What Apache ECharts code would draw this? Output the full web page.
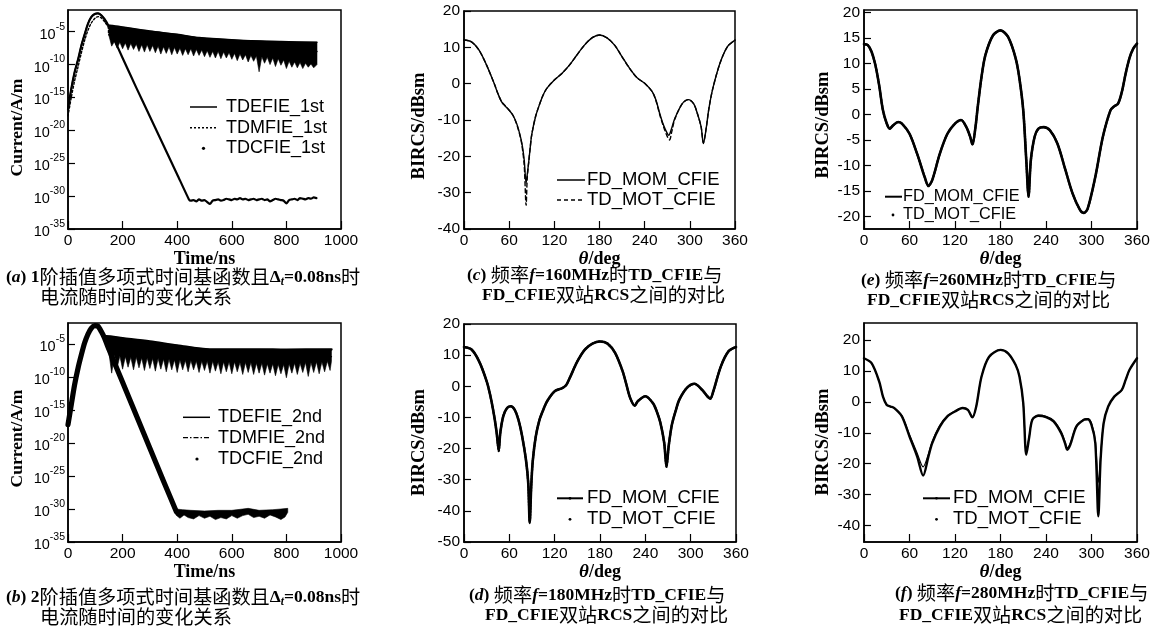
<!DOCTYPE html>
<html><head><meta charset="utf-8">
<script src="https://cdn.jsdelivr.net/npm/echarts@6/dist/echarts.min.js"></script>
<style>html,body{margin:0;padding:0;background:#fff}#chart{width:1156px;height:628px}</style>
</head><body><div id="chart"></div>
<script>
// ---------- Panel (a): time (ns) vs log10(current A/m), 1st order ----------
const riseA = [[0,-16.8],[12,-13.7],[24,-11.2],[37,-9.2],[49,-7.1],[61,-5.4],[73,-3.8],[85,-2.8],[98,-2.3],[110,-2.2],[122,-2.5],[134,-3.1],[147,-4.0]];
const riseMfieA = [[0,-17.8],[12,-15.0],[24,-12.5],[37,-10.3],[49,-8.2],[61,-6.3],[73,-4.8],[85,-3.7],[98,-3.0],[110,-2.7],[122,-2.9],[134,-3.5],[147,-4.3]];
const bandTopA = [[150,-4.0],[200,-4.3],[300,-4.9],[400,-5.4],[480,-5.9],[630,-6.3],[780,-6.5],[912,-6.6]];
const bandBotA = [[150,-5.6],[160,-7.2],[170,-6.5],[180,-7.5],[190,-6.6],[200,-7.6],[210,-6.7],[220,-7.8],[230,-6.8],[240,-7.7],[250,-6.9],[260,-8.0],[270,-7.0],[280,-8.1],[290,-7.0],[300,-8.0],[310,-7.1],[320,-8.2],[330,-7.2],[340,-8.4],[350,-7.3],[360,-8.3],[370,-7.3],[380,-8.5],[390,-7.4],[400,-8.4],[410,-7.5],[420,-8.6],[430,-7.6],[440,-8.5],[450,-7.6],[460,-8.7],[470,-7.7],[480,-8.6],[490,-7.8],[500,-8.8],[510,-7.9],[520,-8.9],[530,-8.0],[540,-9.0],[550,-8.0],[560,-9.1],[570,-8.1],[580,-9.0],[590,-8.2],[600,-9.2],[610,-8.3],[620,-9.4],[630,-8.4],[640,-9.3],[650,-8.5],[660,-9.6],[670,-8.6],[680,-9.5],[690,-8.7],[700,-11.1],[710,-8.8],[720,-9.8],[730,-8.9],[740,-10.0],[750,-9.0],[760,-10.3],[770,-9.1],[780,-10.1],[790,-9.3],[800,-10.6],[810,-9.5],[820,-10.4],[830,-9.6],[840,-10.5],[850,-9.7],[860,-10.6],[870,-9.8],[880,-10.4],[890,-9.9],[900,-10.5],[912,-10.0]];
const mfieTailA = [[150,-5.5],[300,-6.5],[500,-7.2],[700,-7.6],[800,-7.9],[912,-8.0]];
const decayA = [[160,-5.3],[200,-9.0],[250,-13.5],[300,-17.9],[350,-22.3],[400,-26.7],[443,-30.5]];
const floorA = [[450,-30.7],[460,-30.6],[470,-30.8],[480,-30.5],[490,-30.7],[500,-30.6],[510,-30.9],[520,-31.2],[530,-30.7],[540,-30.6],[550,-30.5],[560,-30.7],[570,-30.6],[580,-30.4],[590,-30.5],[600,-30.6],[610,-30.4],[620,-30.5],[630,-30.3],[640,-30.5],[650,-30.4],[660,-30.6],[670,-30.5],[680,-30.4],[690,-30.6],[700,-30.5],[710,-30.4],[720,-30.6],[730,-30.5],[740,-30.8],[750,-30.6],[760,-30.4],[770,-30.5],[780,-30.6],[790,-30.7],[800,-31.1],[810,-30.6],[820,-30.5],[830,-30.4],[840,-30.6],[850,-30.3],[860,-30.4],[870,-30.5],[880,-30.3],[890,-30.4],[900,-30.2],[910,-30.3]];

// ---------- Panel (b): 2nd order ----------
const riseB = [[0,-17.2],[12,-14.2],[24,-11.2],[37,-8.6],[49,-6.6],[61,-4.8],[73,-3.5],[85,-2.6],[98,-2.2],[110,-2.3],[122,-3.1],[134,-4.1]];
const bandTopB = [[140,-3.8],[200,-4.1],[300,-4.6],[400,-5.2],[520,-5.8],[700,-5.8],[800,-5.85],[965,-5.8]];
const bandBotB = [[140,-5.2],[150,-6.4],[160,-9.4],[170,-6.6],[180,-8.6],[190,-6.8],[200,-8.8],[210,-6.9],[220,-8.5],[230,-7.0],[240,-8.9],[250,-7.0],[260,-8.6],[270,-7.1],[280,-9.0],[290,-7.1],[300,-8.7],[310,-7.2],[320,-9.1],[330,-7.2],[340,-8.8],[350,-7.3],[360,-9.2],[370,-7.3],[380,-8.9],[390,-7.4],[400,-9.3],[410,-7.4],[420,-8.9],[430,-7.5],[440,-9.2],[450,-7.5],[460,-8.9],[470,-7.6],[480,-9.3],[490,-7.6],[500,-9.0],[510,-7.6],[520,-9.4],[530,-7.6],[540,-9.1],[550,-7.7],[560,-9.5],[570,-7.7],[580,-9.2],[590,-7.7],[600,-9.5],[610,-7.7],[620,-9.2],[630,-7.8],[640,-9.6],[650,-7.8],[660,-9.3],[670,-7.8],[680,-9.6],[690,-7.9],[700,-9.4],[710,-7.9],[720,-9.7],[730,-8.0],[740,-9.4],[750,-8.0],[760,-9.8],[770,-8.1],[780,-9.5],[790,-8.1],[800,-10.1],[810,-8.0],[820,-9.4],[830,-7.9],[840,-9.6],[850,-7.9],[860,-9.3],[870,-7.8],[880,-9.9],[890,-7.8],[900,-9.3],[910,-7.7],[920,-9.5],[930,-7.7],[940,-9.2],[950,-7.6],[960,-9.0],[965,-7.6]];
const mfieTailB = [[140,-4.6],[300,-6.0],[500,-6.6],[700,-6.8],[965,-6.9]];
const decayB = [[145,-5.3],[200,-10.8],[250,-15.8],[300,-20.8],[350,-25.8],[397,-30.4]];
const floorTopB = [[395,-30.0],[420,-30.1],[450,-30.2],[500,-30.3],[550,-30.2],[600,-30.2],[640,-30.0],[660,-29.9],[700,-30.2],[750,-30.1],[780,-30.0],[805,-29.9]];
const floorBotB = [[395,-30.9],[410,-31.4],[425,-30.9],[440,-31.3],[460,-31.5],[480,-31.0],[500,-31.4],[520,-31.1],[540,-31.6],[560,-31.3],[580,-31.5],[600,-31.0],[620,-31.4],[640,-31.0],[660,-30.8],[680,-31.3],[700,-31.1],[720,-31.4],[740,-30.9],[760,-31.2],[780,-31.6],[795,-31.2],[805,-30.5]];

// ---------- Panel (c): 160 MHz, theta (deg) vs BIRCS (dBsm) ----------
const fdC = [[0,12.0],[10,11.5],[20,9.2],[30,5.1],[40,0.1],[45,-2.7],[50,-5.0],[55,-6.2],[60,-7.3],[65,-8.7],[70,-11.0],[74,-13.8],[77,-16.5],[80,-21.0],[82.5,-27.4],[84,-25.0],[86,-21.5],[88,-17.5],[90,-14.0],[95,-9.1],[100,-5.9],[105,-3.2],[110,-1.3],[120,1.0],[130,2.8],[140,5.1],[150,7.9],[160,10.6],[170,12.6],[180,13.4],[190,12.6],[200,10.6],[210,7.4],[220,4.2],[230,1.6],[240,0.1],[250,-2.2],[255,-4.5],[260,-8.2],[265,-11.4],[270,-13.7],[272,-14.2],[275,-12.8],[280,-9.6],[290,-5.5],[298,-4.4],[305,-5.5],[310,-8.2],[315,-11.9],[318,-16.5],[322,-11.9],[325,-7.3],[330,-1.8],[340,5.6],[350,10.2],[360,12.0]];
const tdC = [[0,12.0],[10,11.5],[20,9.2],[30,5.1],[40,0.1],[45,-2.7],[50,-5.0],[55,-6.2],[60,-7.3],[65,-8.7],[70,-11.2],[74,-14.0],[77,-17.0],[80,-22.5],[82.5,-33.5],[84,-26.0],[86,-21.5],[88,-17.5],[90,-14.0],[95,-9.1],[100,-5.9],[105,-3.2],[110,-1.3],[120,1.0],[130,2.8],[140,5.1],[150,7.9],[160,10.6],[170,12.6],[180,13.4],[190,12.6],[200,10.6],[210,7.4],[220,4.2],[230,1.6],[240,0.1],[250,-2.2],[255,-4.7],[260,-8.5],[265,-11.8],[270,-14.5],[273,-15.5],[276,-13.2],[280,-9.8],[290,-5.5],[298,-4.4],[305,-5.5],[310,-8.2],[315,-11.9],[318,-16.3],[322,-11.9],[325,-7.3],[330,-1.8],[340,5.6],[350,10.2],[360,12.0]];

// ---------- Panel (d): 180 MHz ----------
const fdD = [[0,12.6],[10,11.8],[20,8.0],[30,1.6],[35,-3.2],[40,-9.6],[43,-14.5],[46,-20.4],[48,-15.0],[52,-9.6],[57,-7.0],[62,-6.4],[67,-7.5],[72,-10.7],[77,-16.1],[82,-23.6],[85,-31.0],[87,-43.9],[89,-32.0],[91,-24.0],[95,-16.1],[100,-10.7],[105,-7.5],[110,-4.8],[120,-1.6],[130,-0.6],[135,0.3],[140,2.7],[150,8.0],[160,11.8],[170,13.7],[180,14.4],[190,13.7],[200,10.7],[210,4.8],[215,0.5],[220,-3.8],[226,-6.2],[230,-4.8],[240,-3.2],[250,-5.4],[255,-8.0],[260,-11.8],[265,-18.2],[268,-25.7],[271,-19.0],[275,-12.5],[280,-8.0],[285,-4.3],[295,-0.5],[305,0.8],[315,-1.1],[322,-3.2],[326,-4.0],[330,-1.6],[340,6.4],[350,11.2],[360,12.6]];
const tdD = [[0,12.6],[10,11.8],[20,8.0],[30,1.6],[35,-3.2],[40,-9.6],[43,-14.5],[46,-20.8],[48,-15.0],[52,-9.6],[57,-7.0],[62,-6.4],[67,-7.5],[72,-10.7],[77,-16.1],[82,-23.6],[85,-31.0],[87,-43.5],[89,-32.0],[91,-24.0],[95,-16.1],[100,-10.7],[105,-7.5],[110,-4.8],[120,-1.6],[130,-0.6],[135,0.3],[140,2.7],[150,8.0],[160,11.8],[170,13.7],[180,14.4],[190,13.7],[200,10.7],[210,4.8],[215,0.5],[220,-3.8],[226,-6.2],[230,-4.8],[240,-3.2],[250,-5.4],[255,-8.0],[260,-11.8],[265,-18.2],[268,-25.9],[271,-19.0],[275,-12.5],[280,-8.0],[285,-4.3],[295,-0.5],[305,0.8],[315,-1.1],[322,-3.2],[326,-4.0],[330,-1.6],[340,6.4],[350,11.2],[360,12.6]];

// ---------- Panel (e): 260 MHz ----------
const fdE = [[0,13.8],[5,13.6],[10,12.3],[15,9.7],[20,5.7],[25,0.8],[30,-1.8],[34,-2.8],[38,-2.2],[45,-1.5],[50,-1.8],[60,-3.8],[70,-7.7],[80,-12.3],[85,-14.0],[90,-12.9],[100,-7.7],[110,-3.8],[120,-1.8],[128,-1.1],[135,-2.5],[140,-4.4],[143,-5.9],[147,-2.5],[150,1.5],[155,7.4],[160,11.6],[170,15.5],[180,16.5],[190,15.2],[200,11.0],[205,7.0],[210,0.8],[214,-9.0],[217,-16.0],[220,-9.0],[225,-4.4],[230,-2.8],[237,-2.5],[245,-3.1],[255,-5.7],[265,-10.6],[275,-15.5],[285,-18.8],[290,-19.3],[295,-18.5],[305,-12.3],[315,-4.4],[325,0.8],[330,1.6],[335,2.1],[340,4.4],[345,8.0],[350,11.0],[355,12.9],[360,13.9]];
const tdE = [[0,13.8],[5,13.6],[10,12.3],[15,9.7],[20,5.7],[25,0.8],[30,-1.8],[34,-2.8],[38,-2.2],[45,-1.5],[50,-1.8],[60,-3.8],[70,-7.7],[80,-12.3],[85,-14.1],[90,-12.9],[100,-7.7],[110,-3.8],[120,-1.8],[128,-1.1],[135,-2.5],[140,-4.4],[143,-5.9],[147,-2.5],[150,1.5],[155,7.4],[160,11.6],[170,15.5],[180,16.5],[190,15.2],[200,11.0],[205,7.0],[210,0.8],[214,-9.0],[217,-16.2],[220,-9.0],[225,-4.4],[230,-2.8],[237,-2.5],[245,-3.1],[255,-5.7],[265,-10.6],[275,-15.5],[285,-18.8],[290,-19.4],[295,-18.5],[305,-12.3],[315,-4.4],[325,0.8],[330,1.6],[335,2.1],[340,4.4],[345,8.0],[350,11.0],[355,12.9],[360,13.9]];

// ---------- Panel (f): 280 MHz ----------
const fdF = [[0,14.1],[10,12.5],[20,6.6],[25,1.7],[30,-1.0],[35,-1.5],[40,-2.0],[50,-4.7],[60,-11.2],[70,-17.6],[78,-23.8],[85,-17.6],[90,-13.3],[100,-8.0],[110,-4.7],[120,-3.1],[130,-2.0],[137,-2.6],[143,-5.0],[148,-1.5],[155,8.2],[165,14.6],[180,16.8],[190,15.7],[200,11.9],[205,8.2],[210,-0.4],[214,-17.1],[218,-11.2],[222,-5.8],[230,-4.5],[240,-4.9],[250,-6.3],[260,-10.1],[265,-13.3],[268,-15.5],[272,-13.9],[280,-8.0],[290,-5.8],[295,-5.6],[300,-7.4],[305,-13.3],[309,-37.0],[312,-18.7],[316,-6.9],[322,-1.5],[330,1.7],[340,3.9],[345,7.1],[350,10.3],[360,14.1]];
const tdF = [[0,14.1],[10,12.5],[20,6.6],[25,1.7],[30,-1.0],[35,-1.5],[40,-2.0],[50,-4.5],[60,-10.6],[70,-16.5],[78,-21.0],[85,-16.8],[90,-12.8],[100,-7.6],[110,-4.5],[120,-3.0],[130,-2.0],[137,-2.6],[143,-5.0],[148,-1.5],[155,8.2],[165,14.6],[180,16.8],[190,15.7],[200,11.9],[205,8.2],[210,-0.4],[214,-16.0],[218,-11.0],[222,-5.6],[230,-4.3],[240,-4.7],[250,-6.0],[260,-9.6],[265,-12.8],[268,-14.8],[272,-13.4],[280,-7.8],[290,-5.6],[295,-5.4],[300,-7.0],[305,-12.5],[309,-26.0],[312,-17.5],[316,-6.7],[322,-1.5],[330,1.7],[340,3.9],[345,7.1],[350,10.3],[360,14.1]];

// ---------- tick labels ----------
const logTicks = [-35, -30, -25, -20, -15, -10, -5];
const rcsTicksE = [-20, -15, -10, -5, 0, 5, 10, 15, 20];
const rcsTicksF = [-40, -30, -20, -10, 0, 10, 20];

const SANS = 'Liberation Sans';
const SERIF = 'Liberation Serif';
const CJK = 'Noto Sans CJK SC';
const K = '#000';

const grids = [
  {left:68, top:10, width:273, height:219},
  {left:68, top:323, width:273, height:219},
  {left:464, top:11, width:271, height:218},
  {left:464, top:324, width:272, height:218},
  {left:864, top:10, width:273, height:219},
  {left:864, top:323, width:273, height:219}
].map(g => Object.assign(g, {show:true, borderColor:K, borderWidth:1.5, backgroundColor:'transparent'}));

const nameStyle = {fontFamily:SERIF, fontWeight:'bold', fontSize:18, color:K};

function xAxis(gi, max, interval, name, gap) {
  return {
    type:'value', gridIndex:gi, min:0, max:max, interval:interval,
    axisLine:{show:true, onZero:false, lineStyle:{color:K, width:1.5}},
    axisTick:{show:true, inside:true, length:8, lineStyle:{color:K, width:1.2}},
    axisLabel:{color:K, fontFamily:SANS, fontSize:15.5, margin:4, showMinLabel:true, showMaxLabel:true,
      formatter: v => String(v)},
    splitLine:{show:false},
    name:name, nameLocation:'middle', nameGap:gap,
    nameTextStyle:Object.assign({}, nameStyle, {rich:{i:{fontFamily:SERIF, fontStyle:'italic', fontWeight:'bold', fontSize:19, color:K}}})
  };
}
function yAxisLog(gi, max, pad) {
  return {
    type:'value', gridIndex:gi, min:-35, max:max,
    axisLine:{show:true, onZero:false, lineStyle:{color:K, width:1.5}},
    axisTick:{show:true, inside:true, length:7, customValues:logTicks, lineStyle:{color:K, width:1.2}},
    axisLabel:{customValues:logTicks, margin:3, formatter: v => '{b|10}{s|' + v + '}',
      rich:{b:{fontFamily:SANS, fontSize:14.5, color:K, lineHeight:21, verticalAlign:'bottom'},
            s:{fontFamily:SANS, fontSize:10.5, color:K, lineHeight:11, verticalAlign:'top'}}},
    splitLine:{show:false},
    name:'Current/A/m', nameLocation:'middle', nameGap:42,
    nameTextStyle:Object.assign({}, nameStyle, {fontSize:17.5, padding:[0, pad, 0, 0]})
  };
}
function yAxisRcs(gi, min, max, ticks, gap, pad) {
  const ax = {
    type:'value', gridIndex:gi, min:min, max:max,
    axisLine:{show:true, onZero:false, lineStyle:{color:K, width:1.5}},
    axisTick:{show:true, inside:true, length:7, lineStyle:{color:K, width:1.2}},
    axisLabel:{color:K, fontFamily:SANS, fontSize:15.5, margin:4, showMinLabel:true, showMaxLabel:true},
    splitLine:{show:false},
    name:'BIRCS/dBsm', nameLocation:'middle', nameGap:gap,
    nameTextStyle:Object.assign({}, nameStyle, {fontSize:18.5, padding:[0, pad, 0, 0]})
  };
  if (ticks) { ax.axisTick.customValues = ticks; ax.axisLabel.customValues = ticks; }
  else { ax.interval = 10; }
  return ax;
}

function band(gi, top, bot) {
  return {
    type:'custom', xAxisIndex:gi, yAxisIndex:gi, coordinateSystem:'cartesian2d',
    silent:true, clip:true, encode:{x:0, y:1},
    data: top.concat(bot.slice().reverse()),
    renderItem: function (params, api) {
      if (params.dataIndexInside !== 0) return null;
      const pts = [];
      for (let i = 0; i < params.dataInsideLength; i++) {
        pts.push(api.coord([api.value(0, i), api.value(1, i)]));
      }
      return {type:'polygon', shape:{points:pts}, style:{fill:K, stroke:K, lineWidth:0.6}};
    }
  };
}
function line(gi, name, data, width, type, smooth) {
  return {
    type:'line', name:name, xAxisIndex:gi, yAxisIndex:gi, data:data, showSymbol:false, symbol:'none',
    smooth:smooth || false, clip:true,
    lineStyle:{color:K, width:width, type:type || 'solid', cap:'round', join:'round'}, silent:true
  };
}

const series = [
  // (a)
  band(0, bandTopA, bandBotA),
  line(0, 'TDEFIE_1st', riseA.concat(bandTopA), 1.5, 'solid', 0.3),
  line(0, 'TDMFIE_1st', riseMfieA.concat(mfieTailA), 1.4, [2, 2], 0.3),
  line(0, 'TDCFIE_1st', riseA.concat(decayA, floorA), 2.2, 'solid', 0.2),
  // (b)
  band(1, bandTopB, bandBotB),
  band(1, floorTopB, floorBotB),
  line(1, 'TDEFIE_2nd', riseB.concat(bandTopB), 2.5, 'solid', 0.3),
  line(1, 'TDMFIE_2nd', riseB.concat(mfieTailB), 1.4, [6, 3, 1.5, 3], 0.3),
  line(1, 'TDCFIE_2nd', riseB.concat(decayB), 5.2, 'solid', 0.2),
  // (c)
  line(2, 'FD_MOM_CFIE', fdC, 1.4, 'solid', 0.3),
  line(2, 'TD_MOT_CFIE', tdC, 1.4, [4, 3], 0.3),
  // (d)
  line(3, 'FD_MOM_CFIE', fdD, 2.6, 'solid', 0.3),
  line(3, 'TD_MOT_CFIE', tdD, 2.2, [1.5, 1.5], 0.3),
  // (e)
  line(4, 'FD_MOM_CFIE', fdE, 2.6, 'solid', 0.3),
  line(4, 'TD_MOT_CFIE', tdE, 2.2, [1.5, 1.5], 0.3),
  // (f)
  line(5, 'FD_MOM_CFIE', fdF, 2.4, 'solid', 0.3),
  line(5, 'TD_MOT_CFIE', tdF, 1.2, 'solid', 0.3)
];

// ---------- captions & legends (graphic text) ----------
const capRich = {
  p:{fontFamily:SERIF, fontWeight:'bold', fontSize:17.5, fill:K, lineHeight:22},
  pi:{fontFamily:SERIF, fontWeight:'bold', fontStyle:'italic', fontSize:17.5, fill:K, lineHeight:22},
  z:{fontFamily:CJK, fontSize:19.2, fill:K, lineHeight:22},
  sub:{fontFamily:SERIF, fontWeight:'bold', fontStyle:'italic', fontSize:11.5, fill:K, lineHeight:12, verticalAlign:'bottom'}
};
function cap(x, y, text) {
  return {type:'text', x:x, y:y, silent:true, style:{text:text, rich:capRich, align:'left', verticalAlign:'middle', fill:K}};
}
function legText(x, y, text, size) {
  return {type:'text', x:x, y:y, silent:true, style:{text:text, fontFamily:SANS, fontSize:size, fill:K, align:'left', verticalAlign:'middle'}};
}
function legLine(x1, x2, y, dash, w) {
  return {type:'line', silent:true, shape:{x1:x1, y1:y, x2:x2, y2:y}, style:{stroke:K, lineWidth:w || 1.5, lineDash:dash || null}};
}
function legDot(x, y, r) {
  return {type:'circle', silent:true, shape:{cx:x, cy:y, r:r || 1.6}, style:{fill:K}};
}

const graphic = [
  // legend (a)
  legLine(190, 217, 107), legText(226, 107, 'TDEFIE_1st', 18),
  legLine(190, 217, 127.7, [2, 2]), legText(226, 127.7, 'TDMFIE_1st', 18),
  legDot(203.5, 148.3), legText(226, 148.3, 'TDCFIE_1st', 18),
  // legend (b)
  legLine(183, 210, 417.3), legText(218, 417.3, 'TDEFIE_2nd', 18),
  legLine(183, 210, 437.7, [5, 2, 1.5, 2], 1.3), legText(218, 437.7, 'TDMFIE_2nd', 18),
  legDot(197, 459), legText(218, 459, 'TDCFIE_2nd', 18),
  // legend (c)
  legLine(557, 585, 180), legText(587, 180, 'FD_MOM_CFIE', 18.5),
  legLine(557, 585, 200, [4, 3]), legText(587, 200, 'TD_MOT_CFIE', 18.5),
  // legend (d)
  legLine(557, 583, 498.3, null, 2), legDot(570, 498.3, 1.4), legText(587, 498.3, 'FD_MOM_CFIE', 18.5),
  legDot(570, 519.3, 1.4), legText(587, 519.3, 'TD_MOT_CFIE', 18.5),
  // legend (e)
  legLine(885, 902, 196.7, null, 2), legText(903, 196.7, 'FD_MOM_CFIE', 16.3),
  legDot(893, 215, 1.4), legText(903, 215, 'TD_MOT_CFIE', 16.3),
  // legend (f)
  legLine(923, 950, 498.3, null, 2), legDot(936.5, 498.3, 1.3), legText(953, 498.3, 'FD_MOM_CFIE', 18.5),
  legDot(936.5, 519.3, 1.4), legText(953, 519.3, 'TD_MOT_CFIE', 18.5),
  // captions
  cap(6, 277, '{p|(}{pi|a}{p|) 1}{z|阶插值多项式时间基函数且}{p|Δ}{sub|t}{p|=0.08ns}{z|时}'),
  cap(40, 297, '{z|电流随时间的变化关系}'),
  cap(6, 597, '{p|(}{pi|b}{p|) 2}{z|阶插值多项式时间基函数且}{p|Δ}{sub|t}{p|=0.08ns}{z|时}'),
  cap(40, 617, '{z|电流随时间的变化关系}'),
  cap(467, 275, '{p|(}{pi|c}{p|) }{z|频率}{pi|f}{p|=160MHz}{z|时}{p|TD_CFIE}{z|与}'),
  cap(482, 295, '{p|FD_CFIE}{z|双站}{p|RCS}{z|之间的对比}'),
  cap(469, 595, '{p|(}{pi|d}{p|) }{z|频率}{pi|f}{p|=180MHz}{z|时}{p|TD_CFIE}{z|与}'),
  cap(485, 615, '{p|FD_CFIE}{z|双站}{p|RCS}{z|之间的对比}'),
  cap(861, 280, '{p|(}{pi|e}{p|) }{z|频率}{pi|f}{p|=260MHz}{z|时}{p|TD_CFIE}{z|与}'),
  cap(867, 300, '{p|FD_CFIE}{z|双站}{p|RCS}{z|之间的对比}'),
  cap(895, 593, '{p|(}{pi|f}{p|) }{z|频率}{pi|f}{p|=280MHz}{z|时}{p|TD_CFIE}{z|与}'),
  cap(899, 615, '{p|FD_CFIE}{z|双站}{p|RCS}{z|之间的对比}')
];

const option = {
  animation:false,
  backgroundColor:'#fff',
  grid: grids,
  xAxis: [
    xAxis(0, 1000, 200, 'Time/ns', 19),
    xAxis(1, 1000, 200, 'Time/ns', 19),
    xAxis(2, 360, 60, '{i|θ}/deg', 18),
    xAxis(3, 360, 60, '{i|θ}/deg', 18),
    xAxis(4, 360, 60, '{i|θ}/deg', 18),
    xAxis(5, 360, 60, '{i|θ}/deg', 18)
  ],
  yAxis: [
    yAxisLog(0, -1.7, 16),
    yAxisLog(1, -1.8, 12),
    yAxisRcs(2, -40, 20, null, 35, 12),
    yAxisRcs(3, -50, 20, null, 35, 19),
    yAxisRcs(4, -22.5, 20.5, rcsTicksE, 31, 11),
    yAxisRcs(5, -45.3, 25.5, rcsTicksF, 31, 19)
  ],
  series: series,
  graphic: graphic
};
const chart = echarts.init(document.getElementById('chart'));
chart.setOption(option);
</script></body></html>
